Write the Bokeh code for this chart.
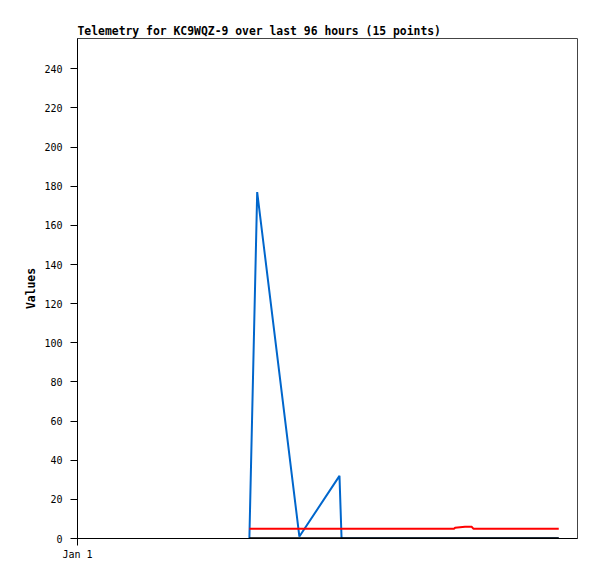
from bokeh.plotting import figure
from bokeh.models import Range1d, FixedTicker
from bokeh.embed import file_html
from bokeh.resources import INLINE

# hours since Jan 1 00:00
times = [33.0, 34.5, 42.6, 50.3, 50.7, 55.0, 60.0, 66.0, 72.3, 72.5, 74.4, 75.7, 76.0, 84.0, 92.4]
blue_vals = [0, 177, 1, 32, 0, 0, 0, 0, 0, 0, 0, 0, 0, 0, 0]
red_vals = [5, 5, 5, 5, 5, 5, 5, 5, 5, 5.5, 6, 6, 5, 5, 5]
black_vals = [0, 0, 0, 0, 0, 0, 0, 0, 0, 0, 0, 0, 0, 0, 0]
y_ticks = [0, 20, 40, 60, 80, 100, 120, 140, 160, 180, 200, 220, 240]
x_ticks = [0]
x_tick_labels = {0: "Jan 1"}

FONT = "DejaVu Sans Mono"

p = figure(
    frame_width=500, frame_height=500,
    min_border_left=77, min_border_top=38, min_border_right=12, min_border_bottom=30,
    x_range=Range1d(0, 96), y_range=Range1d(0, 255.5),
    output_backend="svg", toolbar_location=None,
    title="Telemetry for KC9WQZ-9 over last 96 hours (15 points)",
)
p.title.text_font = FONT
p.title.text_font_size = "11.4px"
p.title.text_font_style = "bold"
p.title.text_color = "black"
p.title.align = "left"
p.title.offset = 0
p.title.standoff = 2

p.xgrid.visible = False
p.ygrid.visible = False
p.outline_line_color = "#444444"
p.outline_line_width = 1
p.background_fill_color = "white"
p.border_fill_color = "white"

p.line(times, blue_vals, line_color="#0066cc", line_width=2)
p.line(times, red_vals, line_color="#ff0000", line_width=2)
p.line(times, black_vals, line_color="#000000", line_width=2.5)

ya = p.yaxis[0]
ya.ticker = FixedTicker(ticks=y_ticks)
ya.axis_label = "Values"
ya.axis_label_text_font = FONT
ya.axis_label_text_font_size = "11.4px"
ya.axis_label_text_font_style = "bold"
ya.axis_label_text_color = "black"
ya.axis_label_standoff = 3
ya.major_label_text_font = FONT
ya.major_label_text_font_size = "10px"
ya.major_label_text_color = "black"
ya.major_tick_out = 7
ya.major_tick_in = 0
ya.minor_tick_out = 0
ya.minor_tick_in = 0
ya.major_label_standoff = 8
ya.axis_line_color = "black"
ya.major_tick_line_color = "black"

xa = p.xaxis[0]
xa.ticker = FixedTicker(ticks=x_ticks)
xa.major_label_overrides = x_tick_labels
xa.major_label_text_font = FONT
xa.major_label_text_font_size = "10px"
xa.major_label_text_color = "black"
xa.major_tick_out = 7
xa.major_tick_in = 0
xa.minor_tick_out = 0
xa.minor_tick_in = 0
xa.major_label_standoff = 3
xa.axis_line_color = "black"
xa.major_tick_line_color = "black"

open("out.html", "w").write(file_html(p, INLINE))
